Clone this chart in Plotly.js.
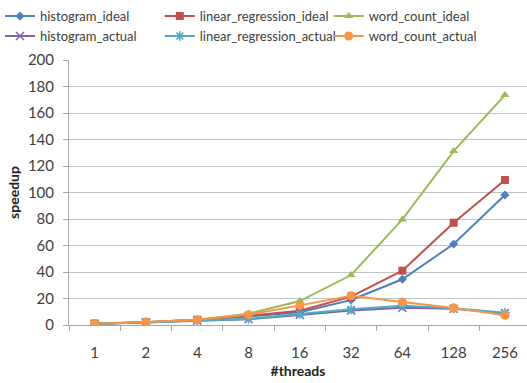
<!DOCTYPE html>
<html>
<head>
<meta charset="utf-8">
<script src="https://cdn.plot.ly/plotly-3.0.1.min.js"></script>
<style>
  html, body { margin: 0; padding: 0; background: #fff; }
  #chart { width: 527px; height: 383px; }
</style>
</head>
<body>
<div id="chart"></div>
<script>
// Speedup per thread count for three benchmarks, ideal vs. measured
const threads = ['1', '2', '4', '8', '16', '32', '64', '128', '256'];

const histogramIdeal        = [1, 2, 4, 6.5, 9.6, 18.9, 34.5, 61.1, 98.1];
const linearRegressionIdeal = [1, 2, 4, 7, 10.8, 21.4, 41, 77.2, 109.4];
const wordCountIdeal        = [1, 2, 4, 8.5, 18.1, 37.7, 79.7, 131.3, 173.6];
const histogramActual       = [1, 1.8, 3.3, 4.3, 7.5, 11, 13, 12.3, 8.8];
const linearRegressionActual= [1, 1.8, 3.4, 4.6, 8.3, 11.8, 14.6, 12.6, 9.3];
const wordCountActual       = [1, 2.2, 4, 7.8, 14.8, 22.1, 17.4, 12.8, 7.3];

const seriesNames = ['histogram_ideal', 'linear_regression_ideal', 'word_count_ideal',
                     'histogram_actual', 'linear_regression_actual', 'word_count_actual'];
const seriesData = [histogramIdeal, linearRegressionIdeal, wordCountIdeal,
                    histogramActual, linearRegressionActual, wordCountActual];
const colors  = ['#4F81BD', '#C0504D', '#9BBB59', '#8064A2', '#4BACC6', '#F79646'];
const symbols = ['diamond', 'square', 'triangle-up', 'x-thin', 'asterisk', 'circle'];
const sizes   = [7, 8, 8, 8, 8, 9];

// one legend per column (benchmark), ideal above actual
const legendIds = ['legend', 'legend2', 'legend3'];

const traces = seriesNames.map((name, i) => ({
  type: 'scatter',
  mode: 'lines+markers',
  name: name,
  legend: legendIds[i % 3],
  x: threads,
  y: seriesData[i],
  line: { color: colors[i], width: 2 },
  marker: {
    symbol: symbols[i],
    size: sizes[i],
    color: colors[i],
    line: { color: colors[i], width: (i === 3 || i === 4) ? 1.5 : 0 }
  }
}));

const fontFamily = 'Lato, "Open Sans", sans-serif';
const tickFont = { family: fontFamily, size: 15, color: '#404040' };
const titleFont = { family: fontFamily, size: 14, color: '#222', weight: 'bold' };

function legendColumn(x) {
  return {
    orientation: 'v',
    x: x, xref: 'paper', xanchor: 'left',
    y: 1.222, yref: 'paper', yanchor: 'top',
    traceorder: 'normal',
    itemwidth: 30,
    bgcolor: 'rgba(0,0,0,0)',
    font: { family: fontFamily, size: 13, color: '#404040' },
    tracegroupgap: 0
  };
}

const layout = {
  width: 527,
  height: 383,
  margin: { l: 68, r: 0, t: 60, b: 58 },
  paper_bgcolor: '#ffffff',
  plot_bgcolor: '#ffffff',
  showlegend: true,
  legend: legendColumn(-0.150),
  legend2: legendColumn(0.200),
  legend3: legendColumn(0.568),
  xaxis: {
    type: 'category',
    range: [-0.5, 8.43],
    tickson: 'boundaries',
    ticks: 'outside',
    ticklen: 5,
    tickcolor: '#a6a6a6',
    showline: true,
    linecolor: '#a6a6a6',
    linewidth: 1,
    showgrid: false,
    tickfont: tickFont,
    ticklabelstandoff: 14,
    title: { text: '#threads', font: titleFont, standoff: 6 }
  },
  yaxis: {
    range: [0, 200],
    dtick: 20,
    ticks: 'outside',
    ticklen: 5,
    tickcolor: '#a6a6a6',
    showline: true,
    linecolor: '#a6a6a6',
    showgrid: true,
    gridcolor: '#c4c4c4',
    gridwidth: 1,
    zeroline: false,
    tickfont: tickFont,
    ticklabelstandoff: 6,
    title: { text: 'speedup', font: titleFont, standoff: 4 }
  }
};

Plotly.newPlot('chart', traces, layout, { displayModeBar: false, staticPlot: true });
</script>
</body>
</html>
